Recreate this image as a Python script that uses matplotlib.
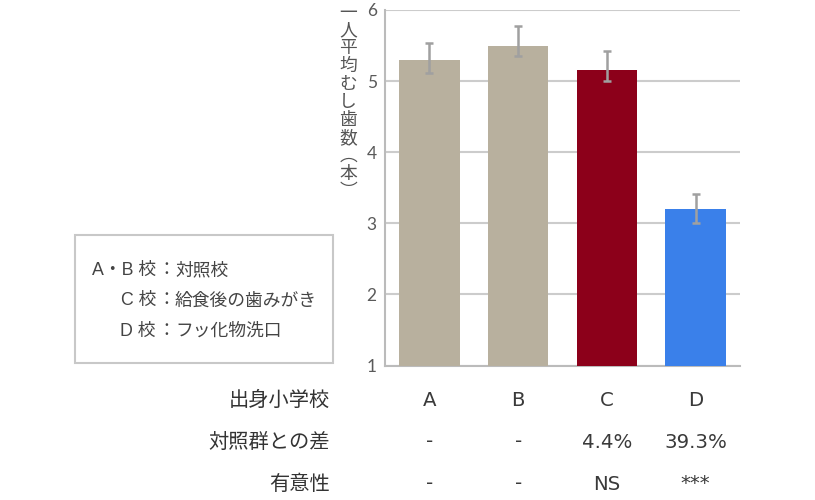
import matplotlib
matplotlib.use("Agg")
import matplotlib.pyplot as plt
from matplotlib.patches import Rectangle
import numpy as np

plt.rcParams['font.family'] = ['Noto Sans CJK JP', 'DejaVu Sans']

# ---- data ----
schools = ['A', 'B', 'C', 'D']
means = [5.30, 5.50, 5.15, 3.20]
err_low = [0.18, 0.15, 0.15, 0.20]
err_high = [0.24, 0.27, 0.27, 0.21]
diff_labels = ['-', '-', '4.4%', '39.3%']
sig_labels = ['-', '-', 'NS', '***']
row_titles = ['出身小学校', '対照群との差', '有意性']
y_ticks = [1, 2, 3, 4, 5, 6]
ylabel_chars = ['一', '人', '平', '均', 'む', 'し', '歯', '数', '︵', '本', '︶']
legend_keys = ['A・B 校', 'C 校', 'D 校']
legend_vals = ['対照校', '給食後の歯みがき', 'フッ化物洗口']

bar_colors = ['#B8B09E', '#B8B09E', '#8C001A', '#3A80EA']
W, H = 815, 500
latin_cjk = ['DejaVu Sans', 'Noto Sans CJK JP']

fig = plt.figure(figsize=(W / 100, H / 100), dpi=100)
ax = fig.add_axes([385 / W, 1 - 365.5 / H, 355 / W, 355.5 / H])

x = np.arange(len(schools))
ax.bar(x, [m - 1 for m in means], bottom=1, width=0.68, color=bar_colors,
       zorder=3, edgecolor='none')
ax.errorbar(x, means, yerr=[err_low, err_high], fmt='none', ecolor='#A0A0A0',
            elinewidth=1.8, capsize=3.2, capthick=1.8, zorder=4)

ax.set_xlim(-0.5, 3.5)
ax.set_ylim(1, 6)
ax.set_yticks(y_ticks)
ax.set_yticklabels([str(t) for t in y_ticks], fontsize=12.5, color='#5A5A5A',
                   family=['Lato', 'DejaVu Sans'])
ax.set_xticks([])
ax.tick_params(axis='y', length=0, pad=6)
ax.grid(axis='y', color='#CCCCCC', linewidth=1.5, zorder=0)
for s in ['top', 'right']:
    ax.spines[s].set_visible(False)
for s in ['left', 'bottom']:
    ax.spines[s].set_color('#BBBBBB')
    ax.spines[s].set_linewidth(1.5)

# vertical y label
y0 = 12.5
step = 17.9
for i, ch in enumerate(ylabel_chars):
    fig.text(348 / W, 1 - (y0 + i * step) / H, ch, ha='center', va='center',
             fontsize=12.8, color='#555555')

# legend box
fig.patches.append(Rectangle((75 / W, 1 - 363 / H), 258 / W, 128 / H,
                             transform=fig.transFigure, fill=False,
                             edgecolor='#C8C8C8', linewidth=1.5))
for i, (k, v) in enumerate(zip(legend_keys, legend_vals)):
    yy = 1 - (270 + i * 30.5) / H
    fig.text(156 / W, yy, k, ha='right', va='center', fontsize=12.8,
             color='#444444', family=['Liberation Sans', 'Noto Sans CJK JP'])
    fig.text(166.5 / W, yy, '：', ha='center', va='center', fontsize=12.8, color='#444444')
    fig.text(175 / W, yy, v, ha='left', va='center', fontsize=12.8, color='#444444')

# bottom table
rows = [schools, diff_labels, sig_labels]
row_y = [400, 442, 484]
for r, (title, vals) in enumerate(zip(row_titles, rows)):
    yy = 1 - row_y[r] / H
    fig.text(330 / W, yy, title, ha='right', va='center', fontsize=14.6, color='#333333')
    for i, v in enumerate(vals):
        xd = ax.transData.transform((x[i], 1))[0]
        fig.text(xd / W, yy, v, ha='center', va='center', fontsize=14.2,
                 color='#3A3A3A', family=latin_cjk)

fig.savefig('out.png', dpi=100)
